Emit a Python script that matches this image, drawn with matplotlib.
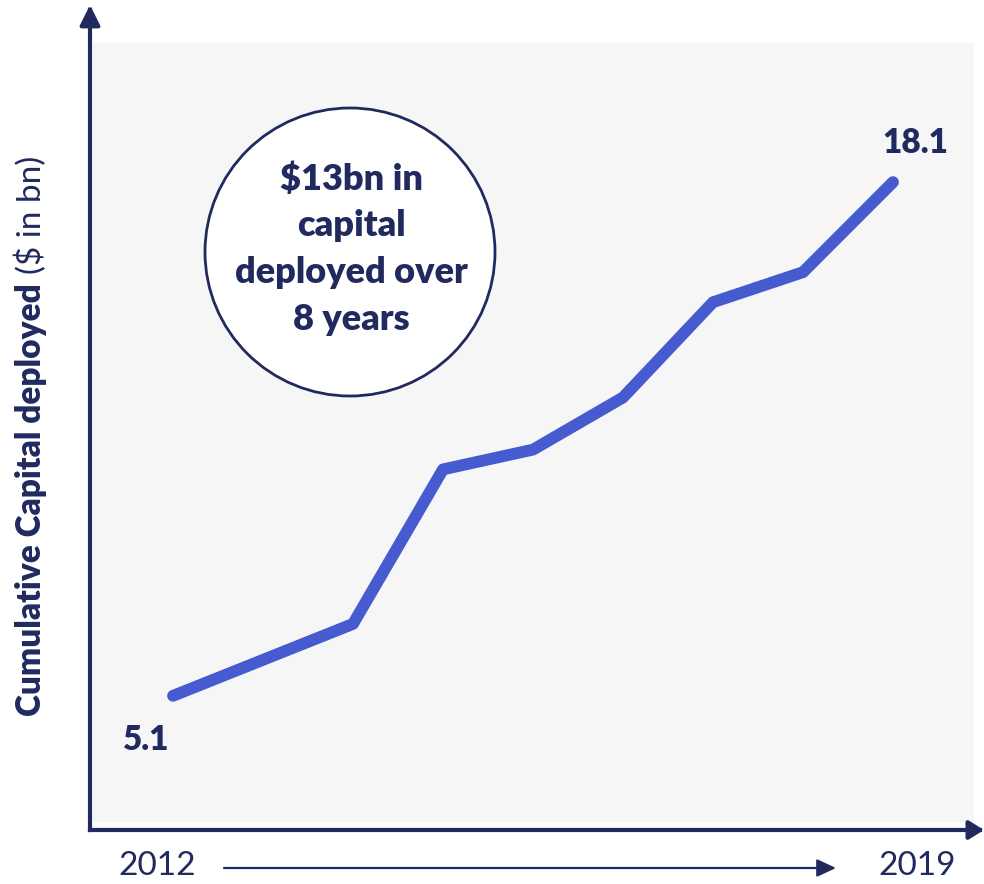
import matplotlib
matplotlib.use('Agg')
import matplotlib.pyplot as plt
from matplotlib.patches import Ellipse, FancyArrowPatch

# data
positions = [0, 2, 3, 4, 5, 6, 7, 8]
capital = [5.1, 6.92, 10.83, 11.33, 12.65, 15.06, 15.82, 18.1]
first_label = '5.1'
last_label = '18.1'
start_year = '2012'
end_year = '2019'
callout = '$13bn in\ncapital\ndeployed over\n8 years'

NAVY = '#212A5F'
BLUE = '#465BD0'
W, H = 984, 884
BOLD = 'heavy'

plt.rcParams['font.family'] = ['Lato', 'DejaVu Sans']


def fx(x):
    return x / W


def fy(y):
    return 1 - y / H


fig = plt.figure(figsize=(W / 100, H / 100), dpi=100)
ax = fig.add_axes([fx(93), fy(822), (974 - 93) / W, (822 - 43) / H])
ax.set_facecolor('#F6F6F6')
for s in ax.spines.values():
    s.set_visible(False)
ax.set_xticks([])
ax.set_yticks([])
ax.set_xlim(-0.889, 8.9)
ax.set_ylim(1.907, 21.62)

ax.plot(positions, capital, color=BLUE, lw=8.5, solid_capstyle='round', solid_joinstyle='round')

ax.annotate(first_label, (positions[0], capital[0]), xytext=(-19, -32), textcoords='offset points',
            ha='center', va='center', fontsize=24, fontweight=BOLD, color=NAVY)
ax.annotate(last_label, (positions[-1], capital[-1]), xytext=(16, 28), textcoords='offset points',
            ha='center', va='center', fontsize=24, fontweight=BOLD, color=NAVY)

# axis arrows
fig.add_artist(FancyArrowPatch((fx(90), fy(830)), (fx(90), fy(5)), transform=fig.transFigure,
                               arrowstyle='-|>,head_length=0.6,head_width=0.3', mutation_scale=20,
                               lw=3, color=NAVY, shrinkA=0, shrinkB=0, capstyle='projecting'))
fig.add_artist(FancyArrowPatch((fx(90), fy(830)), (fx(984), fy(830)), transform=fig.transFigure,
                               arrowstyle='-|>,head_length=0.45,head_width=0.28', mutation_scale=20,
                               lw=3, color=NAVY, shrinkA=0, shrinkB=0, capstyle='projecting'))
# time arrow under chart
fig.add_artist(FancyArrowPatch((fx(224), fy(868)), (fx(836), fy(868)), transform=fig.transFigure,
                               arrowstyle='-|>,head_length=0.58,head_width=0.27', mutation_scale=20,
                               lw=1.6, color=NAVY, shrinkA=0, shrinkB=0))
fig.text(fx(157), fy(866), start_year, ha='center', va='center', fontsize=24, color=NAVY)
fig.text(fx(917), fy(866), end_year, ha='center', va='center', fontsize=24, color=NAVY)

# callout circle
fig.add_artist(Ellipse((fx(350), fy(252)), 290 / W, 288 / H, transform=fig.transFigure,
                       facecolor='white', edgecolor=NAVY, lw=2))
fig.text(fx(351), fy(249), callout, ha='center', va='center', fontsize=26, fontweight=BOLD,
         color=NAVY, linespacing=1.5)

# y label: bold part + regular part
t1 = fig.text(fx(31), fy(716), 'Cumulative Capital deployed', rotation=90, ha='center', va='bottom',
              fontsize=24, fontweight=BOLD, color=NAVY)
fig.canvas.draw()
bb = t1.get_window_extent()
fig.text(fx(31), (bb.y1 + 9) / H, '($ in bn)', rotation=90, ha='center', va='bottom',
         fontsize=24, color=NAVY)

fig.savefig('out.png', dpi=100)
